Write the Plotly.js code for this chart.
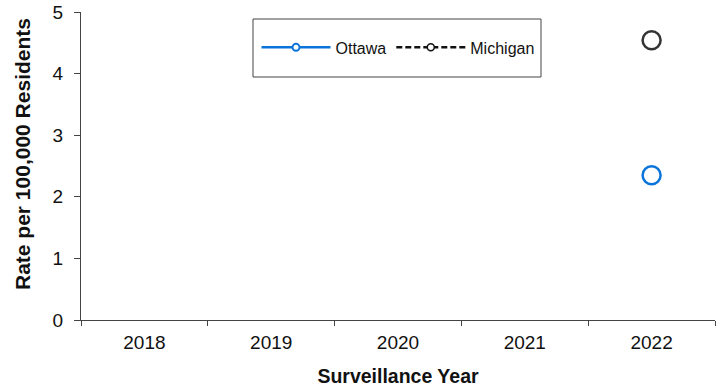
<!DOCTYPE html>
<html>
<head>
<meta charset="utf-8">
<script src="https://cdn.plot.ly/plotly-3.0.1.min.js"></script>
<style>html,body{margin:0;padding:0;background:#fff;}#chart{width:725px;height:390px;}</style>
</head>
<body>
<div id="chart"></div>
<script>
const years = ["2018", "2019", "2020", "2021", "2022"];
const ottawa = [null, null, null, null, 2.35];
const michigan = [null, null, null, null, 4.54];
const yTicks = [0, 1, 2, 3, 4, 5];

const traces = [
  {x: years, y: ottawa, type: "scatter", mode: "lines+markers", name: "Ottawa", showlegend: false,
   line: {color: "#0a74da", width: 2.5}, marker: {symbol: "circle-open", size: 18, color: "#0a74da", line: {width: 2.5}}},
  {x: years, y: michigan, type: "scatter", mode: "lines+markers", name: "Michigan", showlegend: false,
   line: {color: "#333333", width: 2.5, dash: "5px,3px"}, marker: {symbol: "circle-open", size: 18, color: "#333333", line: {width: 2.5}}},
  {x: [null], y: [null], type: "scatter", mode: "lines+markers", name: "Ottawa",
   line: {color: "#0a74da", width: 2.5}, marker: {symbol: "circle", size: 7, color: "#ffffff", line: {color: "#0a74da", width: 2}}},
  {x: [null], y: [null], type: "scatter", mode: "lines+markers", name: "Michigan",
   line: {color: "#111111", width: 2.5, dash: "6px,3px"}, marker: {symbol: "circle", size: 7, color: "#ffffff", line: {color: "#111111", width: 1.5}}}
];

const layout = {
  width: 725, height: 390,
  margin: {l: 81, r: 10, t: 12, b: 70},
  paper_bgcolor: "#ffffff", plot_bgcolor: "#ffffff",
  font: {family: "Liberation Sans, Arial, sans-serif", color: "#111111"},
  showlegend: true,
  legend: {orientation: "h", x: 0.5, xanchor: "center", y: 0.885, yanchor: "middle",
           bgcolor: "rgba(0,0,0,0)", borderwidth: 0, font: {size: 16, color: "#111111"}, itemwidth: 69},
  shapes: [{type: "rect", xref: "paper", yref: "paper", x0: (253-81)/634, x1: (541-81)/634,
            y0: (320-77)/308, y1: (320-19)/308, line: {color: "#444444", width: 1}}],
  annotations: [{text: "<b>Rate per 100,000 Residents</b>", xref: "paper", yref: "paper",
                 x: (22-81)/634, y: (320-154)/308, textangle: -90, showarrow: false,
                 xanchor: "center", yanchor: "middle", font: {size: 21, color: "#111111"}}],
  xaxis: {type: "category", categoryorder: "array", categoryarray: years, range: [-0.5, 4.5],
          tickson: "boundaries", ticks: "outside", ticklen: 5, tickcolor: "#444", ticklabelstandoff: 5,
          showline: true, linecolor: "#444", linewidth: 1, showgrid: false, zeroline: false,
          tickfont: {size: 19}, title: {text: "Surveillance Year", font: {size: 19.5, weight: "bold"}, standoff: 17}},
  yaxis: {range: [0, 5], tickvals: yTicks, ticks: "outside", ticklen: 6, tickcolor: "#444", ticklabelstandoff: 7,
          showline: true, linecolor: "#444", linewidth: 1, showgrid: false, zeroline: false,
          tickfont: {size: 19}}
};

Plotly.newPlot("chart", traces, layout, {displayModeBar: false, staticPlot: true});
</script>
</body>
</html>
